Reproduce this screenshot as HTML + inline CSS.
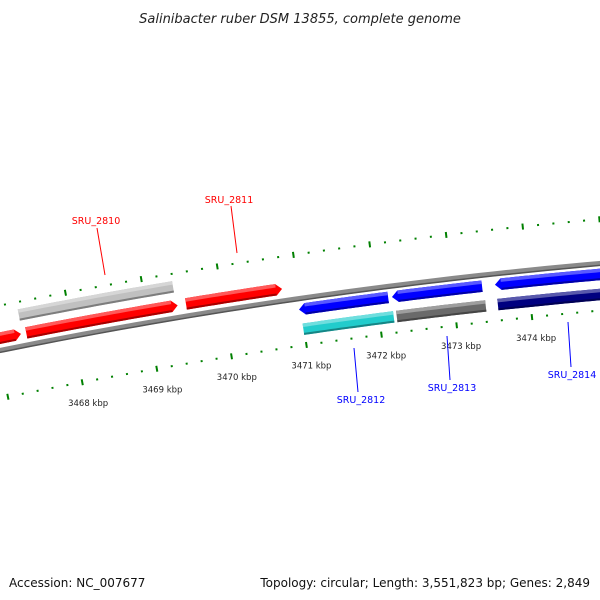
<!DOCTYPE html>
<html><head><meta charset="utf-8"><style>
html,body{margin:0;padding:0;background:#fff;}
svg{display:block;font-family:"DejaVu Sans","Liberation Sans",sans-serif;}
</style></head><body>
<svg id="chart" width="600" height="600" viewBox="0 0 600 600" xmlns="http://www.w3.org/2000/svg">
<rect width="600" height="600" fill="#fff"/>
<text x="300" y="23" text-anchor="middle" font-size="13" font-style="italic" fill="#222">Salinibacter ruber DSM 13855, complete genome</text>
<g id="ticks"></g>
<g id="backbone"></g>
<g id="genes"></g>
<g id="labels"></g>
<text x="9" y="587" font-size="12" fill="#111">Accession: NC_007677</text>
<text x="590" y="587" text-anchor="end" font-size="12" fill="#111">Topology: circular; Length: 3,551,823 bp; Genes: 2,849</text>
</svg>
<script>
// data
const tickLabelsKbp = [3468, 3469, 3470, 3471, 3472, 3473, 3474];
const geneNames  = ["", "", "", "", "SRU_2810", "", "SRU_2811", "SRU_2812", "", "SRU_2813", "", "SRU_2814", ""];
const geneStart  = [3466.4, 3467.01, 3467.40, 3467.35, 3467.35, 3469.52, 3469.52, 3470.97, 3470.99, 3472.20, 3472.23, 3473.56, 3473.57];
const geneEnd    = [3466.95, 3467.33, 3469.41, 3469.39, 3469.39, 3470.79, 3470.79, 3472.15, 3472.19, 3473.39, 3473.41, 3475.2, 3475.2];
const geneStrand = [1, 1, 1, 0, 0, 1, 1, -1, 0, -1, 0, -1, 0];
const geneLane   = [12, 12, 12, 31, 31, 12, 12, -11, -31, -11, -31, -11, -31];
const geneColor  = ["#ff0000","#ff0000","#ff0000","#c0c0c0","#c0c0c0","#ff0000","#ff0000","#0000ff","#22cccc","#0000ff","#6a6a6a","#0000ff","#000080"];
const geneShow   = [1,1,1,1,0,1,0,1,1,1,1,1,1];

const NS = "http://www.w3.org/2000/svg";
const CX = 1083, CY = 5708, R = 5466;
const PHI0 = -0.1438, DPHI = 0.01398, K0 = 3471;
function pt(k, r){ const p = PHI0 + (k-K0)*DPHI; return [CX + r*Math.sin(p), CY - r*Math.cos(p)]; }
function mk(tag, attrs, parent){ const e=document.createElementNS(NS,tag); for(const a in attrs) e.setAttribute(a, attrs[a]); parent.appendChild(e); return e; }
function arcPts(k1,k2,r,n){ const a=[]; for(let i=0;i<=n;i++){ a.push(pt(k1+(k2-k1)*i/n, r)); } return a; }
function ps(a){ return a.map(p=>p[0].toFixed(2)+","+p[1].toFixed(2)).join(" "); }

// ticks
const tg = document.getElementById("ticks");
[R-47, R+44].forEach((rr, row)=>{
  for(let i=0;i<=55;i++){
    const k = 3466 + i*0.2;
    const major = Math.abs(k - Math.round(k)) < 1e-6;
    const a = pt(k, rr - (major?3:1)), b = pt(k, rr + (major?3:1));
    const l = mk("line", {x1:a[0],y1:a[1],x2:b[0],y2:b[1],stroke:"#008000","stroke-width":major?2:2}, tg);
    
    
  }
});
tickLabelsKbp.forEach(k=>{
  const p = pt(k, R-47-21);
  const t = mk("text", {x:p[0]+2, y:p[1]+3, "text-anchor":"middle","font-size":"8.5",fill:"#222"}, tg);
  t.textContent = k + " kbp";
  
  
});

// backbone
const bb = document.getElementById("backbone");
const bpath = "M" + arcPts(3465.5, 3476, R, 60).map(p=>p[0].toFixed(2)+" "+p[1].toFixed(2)).join(" L");
let e = mk("path", {d:bpath, fill:"none", stroke:"#8a8a8a","stroke-width":5}, bb);


const bpath2 = "M" + arcPts(3465.5, 3476, R-2, 60).map(p=>p[0].toFixed(2)+" "+p[1].toFixed(2)).join(" L");
e = mk("path", {d:bpath2, fill:"none", stroke:"#555","stroke-width":1.5}, bb);



// genes
const gg = document.getElementById("genes");
const H = 11.5, AH = 0.08;
function shade(c, f){ const n=parseInt(c.slice(1),16); let r=n>>16,g=(n>>8)&255,b=n&255;
  if(f>0){ r+= (255-r)*f; g+=(255-g)*f; b+=(255-b)*f; } else { r*=1+f; g*=1+f; b*=1+f; }
  return "rgb("+Math.round(r)+","+Math.round(g)+","+Math.round(b)+")"; }
for(let i=0;i<geneStart.length;i++){
  if(!geneShow[i]) continue;
  const k1=geneStart[i], k2=geneEnd[i], s=geneStrand[i], rc=R+geneLane[i];
  const ro=rc+H/2, ri=rc-H/2;
  let pts;
  if(s===1){ pts = arcPts(k1,k2-AH,ro,20).concat([pt(k2,rc)], arcPts(k2-AH,k1,ri,20)); }
  else if(s===-1){ pts = arcPts(k1+AH,k2,ro,20).concat(arcPts(k2,k1+AH,ri,20),[pt(k1,rc)]); }
  else { pts = arcPts(k1,k2,ro,20).concat(arcPts(k2,k1,ri,20)); }
  const g = mk("g", {}, gg);
  
  
  mk("polygon", {points:ps(pts), fill:geneColor[i]}, g);
  const a1 = s===-1?k1+AH:k1, a2 = s===1?k2-AH:k2;
  mk("polygon", {points:ps(arcPts(a1,a2,ro,20).concat(arcPts(a2,a1,ro-3.5,20))), fill:shade(geneColor[i],0.35)}, g);
  mk("polygon", {points:ps(arcPts(a1,a2,ri+2,20).concat(arcPts(a2,a1,ri,20))), fill:shade(geneColor[i],-0.35)}, g);
}

// gene labels (annotation positions)
const lg = document.getElementById("labels");
const labelDefs = [
  ["SRU_2810","#ff0000",96,224,97,228,105,275],
  ["SRU_2811","#ff0000",229,203,231,206,237,253],
  ["SRU_2812","#0000ff",361,403,358,392,354,348],
  ["SRU_2813","#0000ff",452,391,450,380,447,336],
  ["SRU_2814","#0000ff",572,378,571,367,568,322]
];
labelDefs.forEach(d=>{
  const l = mk("line",{x1:d[4],y1:d[5],x2:d[6],y2:d[7],stroke:d[1],"stroke-width":1},lg);
  
  
  const t = mk("text",{x:d[2],y:d[3],"text-anchor":"middle","font-size":"9.5",fill:d[1]},lg);
  t.textContent = d[0];
  
  
});
</script>
</body></html>
